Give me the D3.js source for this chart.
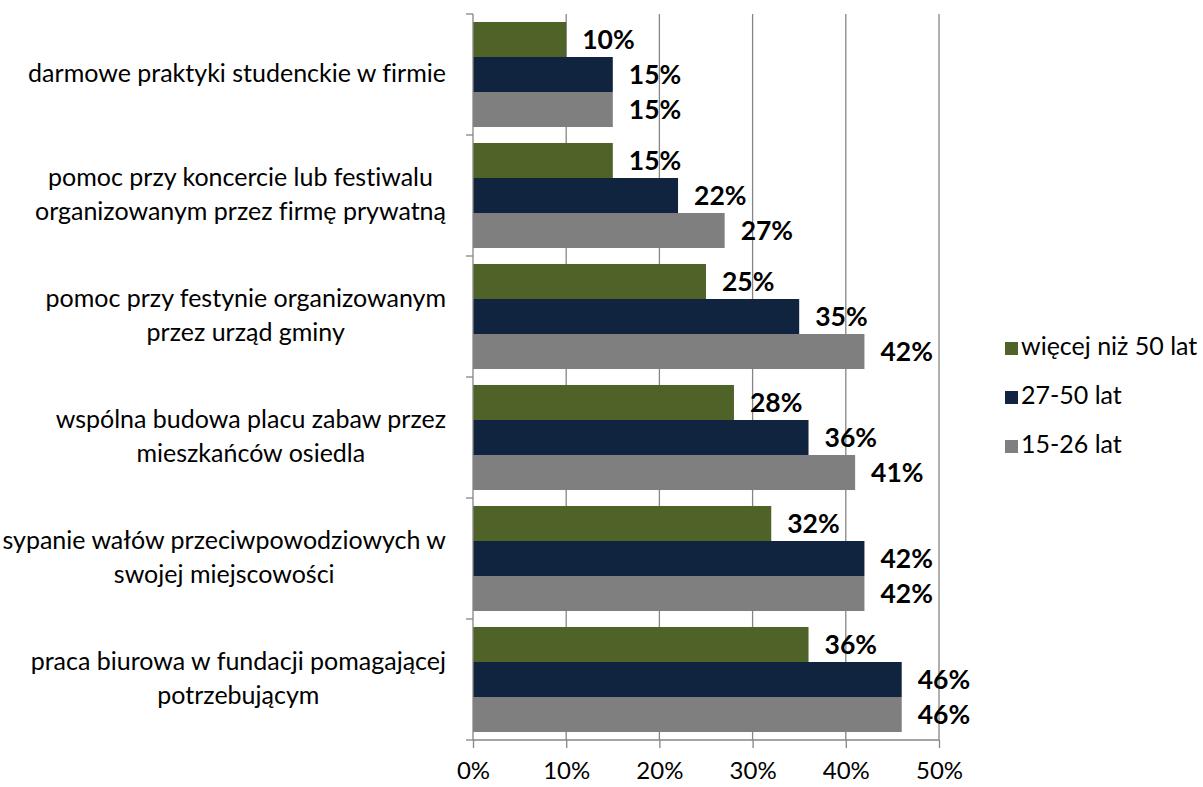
<!DOCTYPE html>
<html><head><meta charset="utf-8">
<script src="https://cdn.jsdelivr.net/npm/d3@7"></script>
<style>body{margin:0;background:#fff}svg{display:block}text{font-variant-ligatures:none;font-feature-settings:"liga" 0}</style>
</head><body>
<svg id="c" width="1203" height="787"></svg>
<script>
const categories = [
  ["darmowe praktyki studenckie w firmie"],
  ["pomoc przy koncercie lub festiwalu", "organizowanym przez firmę prywatną"],
  ["pomoc przy festynie organizowanym", "przez urząd gminy"],
  ["wspólna budowa placu zabaw przez", "mieszkańców osiedla"],
  ["sypanie wałów przeciwpowodziowych w", "swojej miejscowości"],
  ["praca biurowa w fundacji pomagającej", "potrzebującym"]
];
const seriesNames = ["więcej niż 50 lat", "27-50 lat", "15-26 lat"];
const seriesColors = ["#4F6228", "#10243F", "#7F7F7F"];
const over50 = [10, 15, 25, 28, 32, 36];
const age27_50 = [15, 22, 35, 36, 42, 46];
const age15_26 = [15, 27, 42, 41, 42, 46];
const xTicks = [0, 10, 20, 30, 40, 50];

(function () {
const series = [over50, age27_50, age15_26];
const FONT = "Lato, 'Open Sans', sans-serif";
const svg = d3.select("#c");
const pL = 473, pR = 939, pT = 14, pB = 740;

const x = d3.scaleLinear().domain([0, 50]).range([pL, pR]);
const y = d3.scaleBand().domain(d3.range(categories.length)).range([pT, pB]).paddingInner(0.132).paddingOuter(0.066);
const yi = d3.scaleBand().domain(d3.range(series.length)).range([0, y.bandwidth()]);

// gridlines
svg.append("g").selectAll("line").data(xTicks.slice(1)).join("line")
  .attr("x1", d => x(d)).attr("x2", d => x(d))
  .attr("y1", pT).attr("y2", pB)
  .attr("stroke", "#868686").attr("stroke-width", 1.3);

// bars
const g = svg.append("g");
series.forEach((vals, si) => {
  g.selectAll(null).data(vals).join("rect")
    .attr("x", x(0))
    .attr("y", (d, i) => y(i) + yi(si))
    .attr("width", d => x(d) - x(0))
    .attr("height", yi.bandwidth())
    .attr("fill", seriesColors[si]);
  g.selectAll(null).data(vals).join("text")
    .attr("x", d => x(d) + 16)
    .attr("y", (d, i) => y(i) + yi(si) + yi.bandwidth() / 2 + 3)
    .attr("dominant-baseline", "middle")
    .attr("font-family", FONT).attr("font-weight", "bold").attr("font-size", 26.5)
    .attr("fill", "#000")
    .text(d => d + "%");
});

// x axis
const xAxis = d3.axisBottom(x).tickValues(xTicks).tickFormat(d => d + "%").tickSize(8).tickPadding(14);
const xa = svg.append("g").attr("transform", `translate(0,${pB})`).call(xAxis);
xa.select(".domain").attr("stroke", "#868686").attr("stroke-width", 1.3).attr("d", `M${pL},0H${pR}`);
xa.selectAll(".tick line").attr("stroke", "#868686").attr("stroke-width", 1.3);
xa.selectAll(".tick text").attr("font-family", FONT).attr("font-size", 24).attr("fill", "#000");

// y axis (line + tick marks at band boundaries)
const ya = svg.append("g");
ya.append("line").attr("x1", pL).attr("x2", pL).attr("y1", pT).attr("y2", pB)
  .attr("stroke", "#868686").attr("stroke-width", 1.3);
const bounds = d3.range(categories.length + 1).map(i => pT + i * (pB - pT) / categories.length);
ya.selectAll(null).data(bounds).join("line")
  .attr("x1", pL - 7).attr("x2", pL).attr("y1", d => d).attr("y2", d => d)
  .attr("stroke", "#868686").attr("stroke-width", 1.3);

// category labels: block right-aligned, lines centered within block
const lineH = 34;
categories.forEach((lines, i) => {
  const cy = y(i) + y.bandwidth() / 2;
  const t = svg.append("text").attr("font-family", FONT).attr("font-size", 25).attr("fill", "#000")
    .attr("text-anchor", "middle");
  const spans = lines.map((l, k) => t.append("tspan").attr("y", cy + 1 + (k - (lines.length - 1) / 2) * lineH).attr("dominant-baseline", "middle").text(l));
  const w = d3.max(spans, s => s.node().getComputedTextLength());
  const cx = 446 - w / 2;
  spans.forEach(s => s.attr("x", cx));
});

// legend
const lg = svg.append("g");
seriesNames.forEach((n, i) => {
  const ly = 348 + i * 49;
  lg.append("rect").attr("x", 1005).attr("y", ly - 6).attr("width", 13).attr("height", 13).attr("fill", seriesColors[i]);
  lg.append("text").attr("x", 1021).attr("y", ly + 1).attr("dominant-baseline", "middle")
    .attr("font-family", FONT).attr("font-size", 25).attr("fill", "#000").text(n);
});
})();
</script>
</body></html>
